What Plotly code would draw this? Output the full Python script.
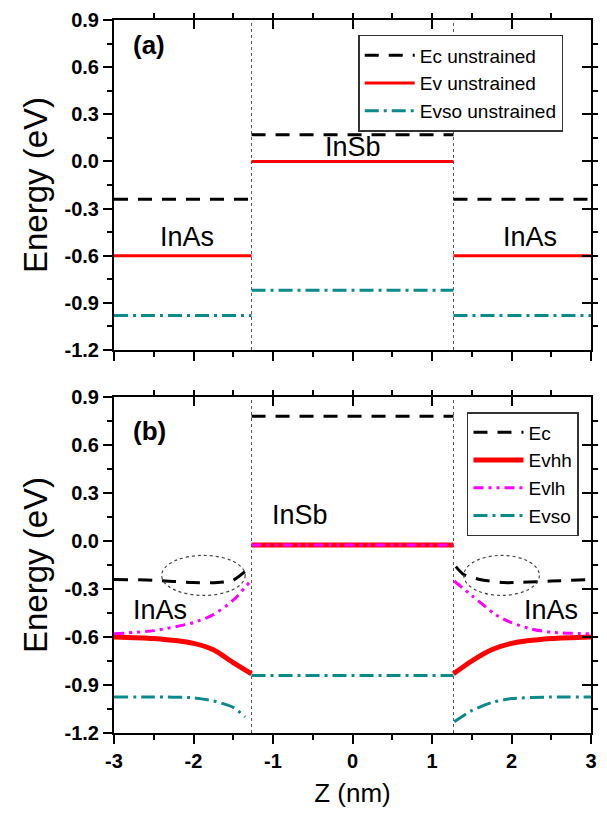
import plotly.graph_objects as go

# ---------------- data ----------------
Z_MIN, Z_MAX = -3.0, 3.0
Z_IF = 1.27  # InAs/InSb interfaces at +-Z_IF (nm)

x_tickvals = [-3, -2, -1, 0, 1, 2, 3]
x_ticktext = ["-3", "-2", "-1", "0", "1", "2", "3"]
y_tickvals = [-1.2, -0.9, -0.6, -0.3, 0.0, 0.3, 0.6, 0.9]
y_ticktext = ["-1.2", "-0.9", "-0.6", "-0.3", "0.0", "0.3", "0.6", "0.9"]

# panel (a): unstrained band edges (eV)
a_names = ["Ec unstrained", "Ev unstrained", "Evso unstrained"]
a_inas = [-0.24, -0.60, -0.98]
a_insb = [0.17, 0.00, -0.82]

# panel (b): strained band edges
b_names = ["Ec", "Evhh", "Evlh", "Evso"]
b_insb = [0.78, -0.025, -0.025, -0.84]

ec_left_z = [-3.0, -2.5, -2.0, -1.7, -1.5, -1.35]
ec_left = [-0.24, -0.245, -0.26, -0.26, -0.245, -0.19]
ec_right_z = [1.3, 1.4, 1.6, 1.9, 2.5, 3.0]
ec_right = [-0.16, -0.21, -0.24, -0.26, -0.25, -0.24]

hh_left_z = [-3.0, -2.5, -2.0, -1.75, -1.5, -1.27]
hh_left = [-0.60, -0.61, -0.64, -0.68, -0.76, -0.83]
hh_right_z = [1.27, 1.5, 1.75, 2.0, 2.5, 3.0]
hh_right = [-0.83, -0.75, -0.68, -0.64, -0.61, -0.60]

lh_left_z = [-3.0, -2.5, -2.0, -1.75, -1.5, -1.3]
lh_left = [-0.58, -0.56, -0.51, -0.46, -0.37, -0.26]
lh_right_z = [1.28, 1.5, 1.8, 2.0, 2.25, 2.5, 3.0]
lh_right = [-0.25, -0.34, -0.46, -0.51, -0.55, -0.57, -0.58]

so_left_z = [-3.0, -2.5, -2.0, -1.75, -1.5, -1.35]
so_left = [-0.975, -0.975, -0.98, -1.0, -1.04, -1.1]
so_right_z = [1.28, 1.5, 1.75, 2.0, 2.5, 3.0]
so_right = [-1.13, -1.06, -1.01, -0.985, -0.975, -0.975]

# ---------------- styles ----------------
BLACK = "#000000"
RED = "#ff0000"
MAG = "#ff00ff"
TEAL = "#0a8a8a"
DASH_EC = "14px,10px"
DASH_SO = "14px,5px,3px,5px"
DASH_LH = "10px,5px,3px,5px,3px,5px"
FONT = "Liberation Sans, Arial, sans-serif"

a_styles = [
    dict(color=BLACK, width=3, dash=DASH_EC),
    dict(color=RED, width=3, dash="solid"),
    dict(color=TEAL, width=3, dash=DASH_SO),
]
b_styles = [
    dict(color=BLACK, width=3, dash=DASH_EC),
    dict(color=RED, width=5, dash="solid"),
    dict(color=MAG, width=3, dash=DASH_LH),
    dict(color=TEAL, width=3, dash=DASH_SO),
]

fig = go.Figure()

# panel (a)
for name, vin, vsb, st in zip(a_names, a_inas, a_insb, a_styles):
    fig.add_trace(go.Scatter(x=[Z_MIN, -Z_IF], y=[vin, vin], mode="lines", line=st,
                             name=name, legendgroup=name, showlegend=True,
                             legend="legend", xaxis="x", yaxis="y"))
    fig.add_trace(go.Scatter(x=[-Z_IF, Z_IF], y=[vsb, vsb], mode="lines", line=st,
                             name=name, legendgroup=name, showlegend=False,
                             xaxis="x", yaxis="y"))
    fig.add_trace(go.Scatter(x=[Z_IF, Z_MAX], y=[vin, vin], mode="lines", line=st,
                             name=name, legendgroup=name, showlegend=False,
                             xaxis="x", yaxis="y"))

# panel (b)
left = [(ec_left_z, ec_left), (hh_left_z, hh_left), (lh_left_z, lh_left), (so_left_z, so_left)]
right = [(ec_right_z, ec_right), (hh_right_z, hh_right), (lh_right_z, lh_right), (so_right_z, so_right)]
for name, vsb, st, (lz, lv), (rz, rv) in zip(b_names, b_insb, b_styles, left, right):
    fig.add_trace(go.Scatter(x=lz, y=lv, mode="lines",
                             line=dict(st, shape="spline", smoothing=0.7),
                             name=name, legendgroup=name, showlegend=True,
                             legend="legend2", xaxis="x2", yaxis="y2"))
    fig.add_trace(go.Scatter(x=[-Z_IF, Z_IF], y=[vsb, vsb], mode="lines", line=st,
                             name=name, legendgroup=name, showlegend=False,
                             legend="legend2", xaxis="x2", yaxis="y2"))
    fig.add_trace(go.Scatter(x=rz, y=rv, mode="lines",
                             line=dict(st, shape="spline", smoothing=0.7),
                             name=name, legendgroup=name, showlegend=False,
                             legend="legend2", xaxis="x2", yaxis="y2"))

# invisible traces to carry the mirror (inside-tick) axes
for xa, ya in [("x3", "y3"), ("x4", "y4")]:
    fig.add_trace(go.Scatter(x=[Z_MIN], y=[0], mode="markers", marker=dict(opacity=0),
                             showlegend=False, hoverinfo="skip", xaxis=xa, yaxis=ya))

tickfont = dict(family=FONT, size=20, color="black", weight=700)
common_x = dict(range=[Z_MIN, Z_MAX], tickmode="array", tickvals=x_tickvals,
                ticktext=x_ticktext, showline=True, linecolor="black",
                linewidth=2, showgrid=False, zeroline=False, ticklen=9, tickwidth=2,
                tickcolor="black", automargin=False, ticklabeloverflow="allow",
                minor=dict(tickmode="linear", tick0=0, dtick=0.5, ticklen=5, tickwidth=2,
                           tickcolor="black", showgrid=False))
common_y = dict(range=[-1.2, 0.9], tickmode="array", tickvals=y_tickvals,
                ticktext=y_ticktext, showline=True, linecolor="black",
                linewidth=2, showgrid=False, zeroline=False, ticklen=9, tickwidth=2,
                tickcolor="black", automargin=False, ticklabeloverflow="allow",
                minor=dict(tickmode="linear", tick0=0, dtick=0.15, ticklen=5, tickwidth=2,
                           tickcolor="black", showgrid=False))
top_dom = [0.5372, 1.0]
bot_dom = [0.0, 0.4712]
ytitle = dict(text="Energy (eV)", font=dict(family=FONT, size=33), standoff=7)

fig.update_layout(
    width=591, height=800,
    margin=dict(l=106, r=8, t=12, b=75),
    plot_bgcolor="rgba(0,0,0,0)", paper_bgcolor="white",
    font=dict(family=FONT, color="black"),
    xaxis=dict(common_x, domain=[0, 1], anchor="y", ticks="outside", showticklabels=False),
    yaxis=dict(common_y, domain=top_dom, anchor="x", ticks="outside", tickfont=tickfont,
               title=ytitle),
    xaxis2=dict(common_x, domain=[0, 1], anchor="y2", ticks="outside", tickfont=tickfont,
                title=dict(text="Z (nm)", font=dict(family=FONT, size=26), standoff=14)),
    yaxis2=dict(common_y, domain=bot_dom, anchor="x2", ticks="outside", tickfont=tickfont,
                title=ytitle),
    xaxis3=dict(common_x, anchor="y3", side="top", ticks="inside", showticklabels=False,
                overlaying="x"),
    yaxis3=dict(common_y, domain=top_dom, anchor="x3", side="right", ticks="inside",
                showticklabels=False, overlaying="y"),
    xaxis4=dict(common_x, anchor="y4", side="top", ticks="inside", showticklabels=False,
                overlaying="x2"),
    yaxis4=dict(common_y, domain=bot_dom, anchor="x4", side="right", ticks="inside",
                showticklabels=False, overlaying="y2"),
    legend=dict(x=0.512, y=0.979, xanchor="left", yanchor="top", bgcolor="white",
                bordercolor="#333333", borderwidth=1.5, tracegroupgap=0,
                font=dict(family=FONT, size=19), itemwidth=50),
    legend2=dict(x=0.740, y=0.4502, xanchor="left", yanchor="top", bgcolor="white",
                 bordercolor="#333333", borderwidth=1.5, tracegroupgap=0,
                 font=dict(family=FONT, size=19), itemwidth=50),
    showlegend=True,
)

# interface dotted lines
for xr, yr in [("x", "y"), ("x2", "y2")]:
    for zi in (-Z_IF, Z_IF):
        fig.add_shape(type="line", xref=xr, yref=f"{yr} domain", x0=zi, x1=zi, y0=0, y1=1,
                      line=dict(color="#555555", width=1, dash="dot"), layer="below")

# dotted ellipses marking the interface dips in Ec
fig.add_shape(type="circle", xref="x2", yref="y2", x0=-2.4, x1=-1.35, y0=-0.34, y1=-0.09,
              line=dict(color="#444444", width=1.2, dash="dot"))
fig.add_shape(type="circle", xref="x2", yref="y2", x0=1.4, x1=2.35, y0=-0.34, y1=-0.09,
              line=dict(color="#444444", width=1.2, dash="dot"))

labels = [
    ("x", "y", -2.56, 0.74, "<b>(a)</b>", 26),
    ("x", "y", 0.0, 0.09, "InSb", 27),
    ("x", "y", -2.08, -0.48, "InAs", 27),
    ("x", "y", 2.23, -0.48, "InAs", 27),
    ("x2", "y2", -2.55, 0.69, "<b>(b)</b>", 26),
    ("x2", "y2", -0.66, 0.16, "InSb", 27),
    ("x2", "y2", -2.42, -0.43, "InAs", 27),
    ("x2", "y2", 2.5, -0.43, "InAs", 27),
]
for xr, yr, x, y, t, s in labels:
    fig.add_annotation(xref=xr, yref=yr, x=x, y=y, text=t, showarrow=False,
                       font=dict(family=FONT, size=s, color="black"))

fig.write_html("out.html")
